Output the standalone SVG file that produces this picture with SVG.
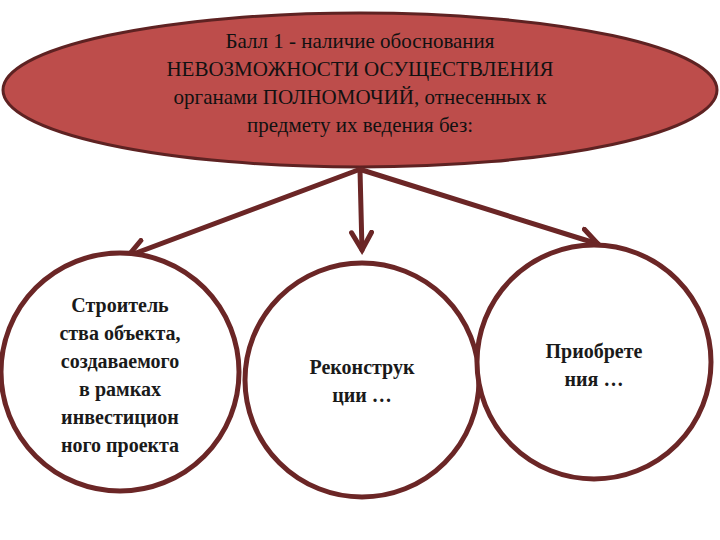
<svg xmlns="http://www.w3.org/2000/svg" width="720" height="540" viewBox="0 0 720 540">
<style>
.t{font-family:'Liberation Serif','Times New Roman','DejaVu Serif',serif;font-size:21px;fill:#111;text-anchor:middle}
.b{font-family:'Liberation Serif','Times New Roman','DejaVu Serif',serif;font-size:20px;font-weight:bold;fill:#1a1a1a;text-anchor:middle}
.c{fill:#fff;stroke:#6b2626;stroke-width:5}
.a{stroke:#6b2626;stroke-width:5;fill:none;stroke-linecap:round}
</style>
<defs><marker id="m" viewBox="0 0 10 10" refX="8" refY="5" markerWidth="5" markerHeight="5" orient="auto"><path d="M1,1 L8,5 L1,9" fill="none" stroke="#6b2626" stroke-width="2" stroke-linecap="round"/></marker></defs>
<rect width="720" height="540" fill="#fff"/>
<g id="top"><ellipse cx="360" cy="90" rx="357" ry="77" fill="#bd4d4b" stroke="#5e2222" stroke-width="3"/>
<text class="t" x="360" y="48">Балл 1 - наличие обоснования</text>
<text class="t" x="360" y="76">НЕВОЗМОЖНОСТИ ОСУЩЕСТВЛЕНИЯ</text>
<text class="t" x="360" y="104">органами ПОЛНОМОЧИЙ, отнесенных к</text>
<text class="t" x="360" y="132">предмету их ведения без:</text></g>
<g id="connectors">
<path class="a" d="M358,170 L128,256" marker-end="url(#m)"/>
<path class="a" d="M360,170 L362,250" marker-end="url(#m)"/>
<path class="a" d="M362,170 L598,244" marker-end="url(#m)"/>
</g>
<g id="n1"><circle class="c" cx="120" cy="372" r="119"/>
<text class="b" x="120" y="312">Строитель</text><text class="b" x="120" y="340">ства объекта,</text><text class="b" x="120" y="368">создаваемого</text><text class="b" x="120" y="396">в рамках</text><text class="b" x="120" y="424">инвестицион</text><text class="b" x="120" y="452">ного проекта</text></g>
<g id="n2"><circle class="c" cx="362" cy="380" r="117"/>
<text class="b" x="362" y="374">Реконструк</text><text class="b" x="362" y="402">ции …</text></g>
<g id="n3"><circle class="c" cx="594" cy="362" r="117"/>
<text class="b" x="594" y="358">Приобрете</text><text class="b" x="594" y="386">ния …</text></g>
</svg>
